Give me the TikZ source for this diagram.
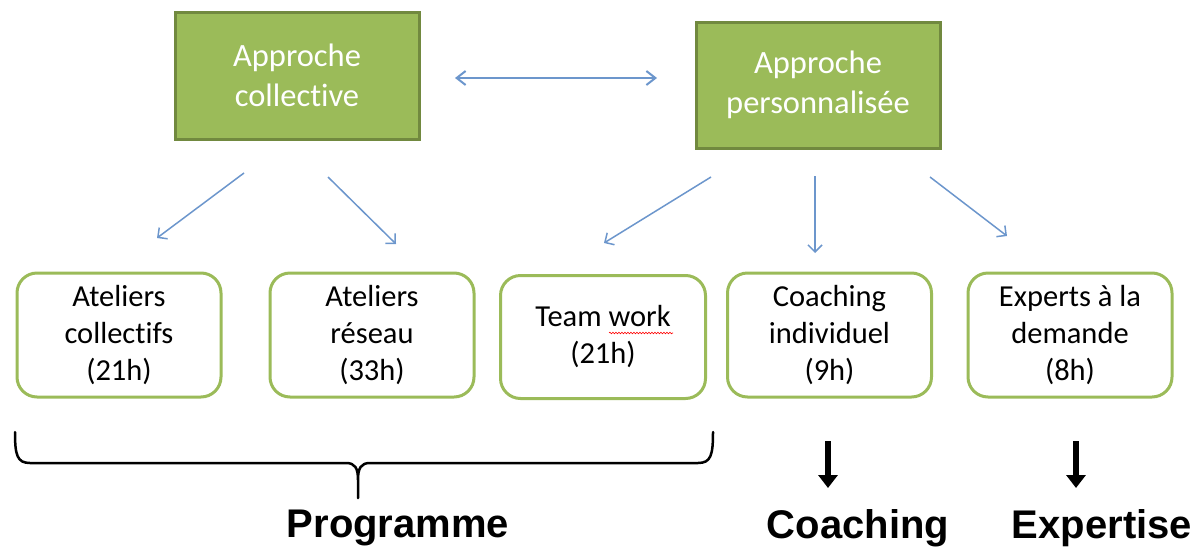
\documentclass[tikz,border=0pt]{standalone}
\usepackage{fontspec}
\setmainfont{Carlito}[Ligatures=NoCommon]
\newfontfamily\arialb{Liberation Sans}
\usetikzlibrary{arrows.meta,decorations.pathmorphing}
\definecolor{gfill}{HTML}{9BBB59}
\definecolor{gdark}{HTML}{71893F}
\definecolor{barrow}{HTML}{6C96CC}
\tikzset{
  topbox/.style={draw=gdark, fill=gfill, line width=3pt, text=white, align=center,
    minimum width=244pt, minimum height=127pt, inner sep=0pt,
    font=\fontsize{32.5}{40}\selectfont},
  subbox/.style={draw=gfill, fill=white, line width=3pt, rounded corners=20pt, align=center,
    minimum width=204pt, minimum height=124pt, inner sep=0pt,
    font=\fontsize{30.5}{37}\selectfont},
  blink/.style={draw=barrow, line width=1.5pt, -{Straight Barb[length=7pt,width=14pt,line width=1.5pt]}},
  dblink/.style={draw=barrow, line width=2pt, {Straight Barb[length=9pt,width=14pt,line width=2pt]}-{Straight Barb[length=9pt,width=14pt,line width=2pt]}},
  karrow/.style={draw=black, line width=6.5pt, -{Triangle[length=13pt,width=19pt]}},
  biglabel/.style={font=\arialb\bfseries\fontsize{40}{46}\selectfont, inner sep=0pt},
}
\begin{document}
\begin{tikzpicture}[x=1pt,y=-1pt]
\useasboundingbox (0,0) rectangle (1199,552);
% top boxes
\node[topbox] (ac) at (297,75.5) {Approche\\collective};
\node[topbox, minimum height=126pt] (ap) at (818,85) {Approche\\personnalisée};
% sub boxes
\node[subbox] (b1) at (119,335) {Ateliers\\collectifs\\(21h)};
\node[subbox] (b2) at (372,335) {Ateliers\\réseau\\(33h)};
\node[subbox, minimum width=205pt, minimum height=123pt] (b3) at (603,337) {Team work\\(21h)};
\node[subbox] (b4) at (829.5,335) {Coaching\\individuel\\(9h)};
\node[subbox] (b5) at (1070,335) {Experts à la\\demande\\(8h)};
% spelling squiggle under "work"
\coordinate (sq1) at (609,333);
\coordinate (sq2) at (673,333);
\draw[red, line width=0.6pt, decorate, decoration={snake, amplitude=0.8pt, segment length=3pt}] (sq1) -- (sq2);
% double arrow
\coordinate (d1) at (455,78);
\coordinate (d2) at (657,78);
\draw[dblink] (d1) -- (d2);
% thin arrows
\coordinate (s1) at (244,173); \coordinate (e1) at (157,238);
\coordinate (s2) at (328,177); \coordinate (e2) at (396,244);
\coordinate (s3) at (711,177); \coordinate (e3) at (604,243);
\coordinate (s4) at (815,176); \coordinate (e4) at (815,253);
\coordinate (s5) at (930,177); \coordinate (e5) at (1007,236);
\draw[blink] (s1) -- (e1);
\draw[blink] (s2) -- (e2);
\draw[blink] (s3) -- (e3);
\draw[blink] (s4) -- (e4);
\draw[blink] (s5) -- (e5);
% brace
\draw[line width=2.5pt, line cap=round, line join=round]
  (15,432) .. controls (15,455) and (17,463) .. (30,463) -- (346,463)
  .. controls (355,463) and (358,468) .. (358,480) -- (358,498)
  -- (358,480) .. controls (358,468) and (361,463) .. (370,463) -- (698,463)
  .. controls (711,463) and (713,455) .. (713,432);
% black arrows
\coordinate (k1s) at (828,441); \coordinate (k1e) at (828,488);
\coordinate (k2s) at (1076,441); \coordinate (k2e) at (1076,488);
\draw[karrow] (k1s) -- (k1e);
\draw[karrow] (k2s) -- (k2e);
% labels
\node[biglabel] (lp) at (398,528) {Programme};
\node[biglabel] (lc) at (858,528) {Coaching};
\node[biglabel] (le) at (1102,528) {Expertise};
\end{tikzpicture}
\end{document}
